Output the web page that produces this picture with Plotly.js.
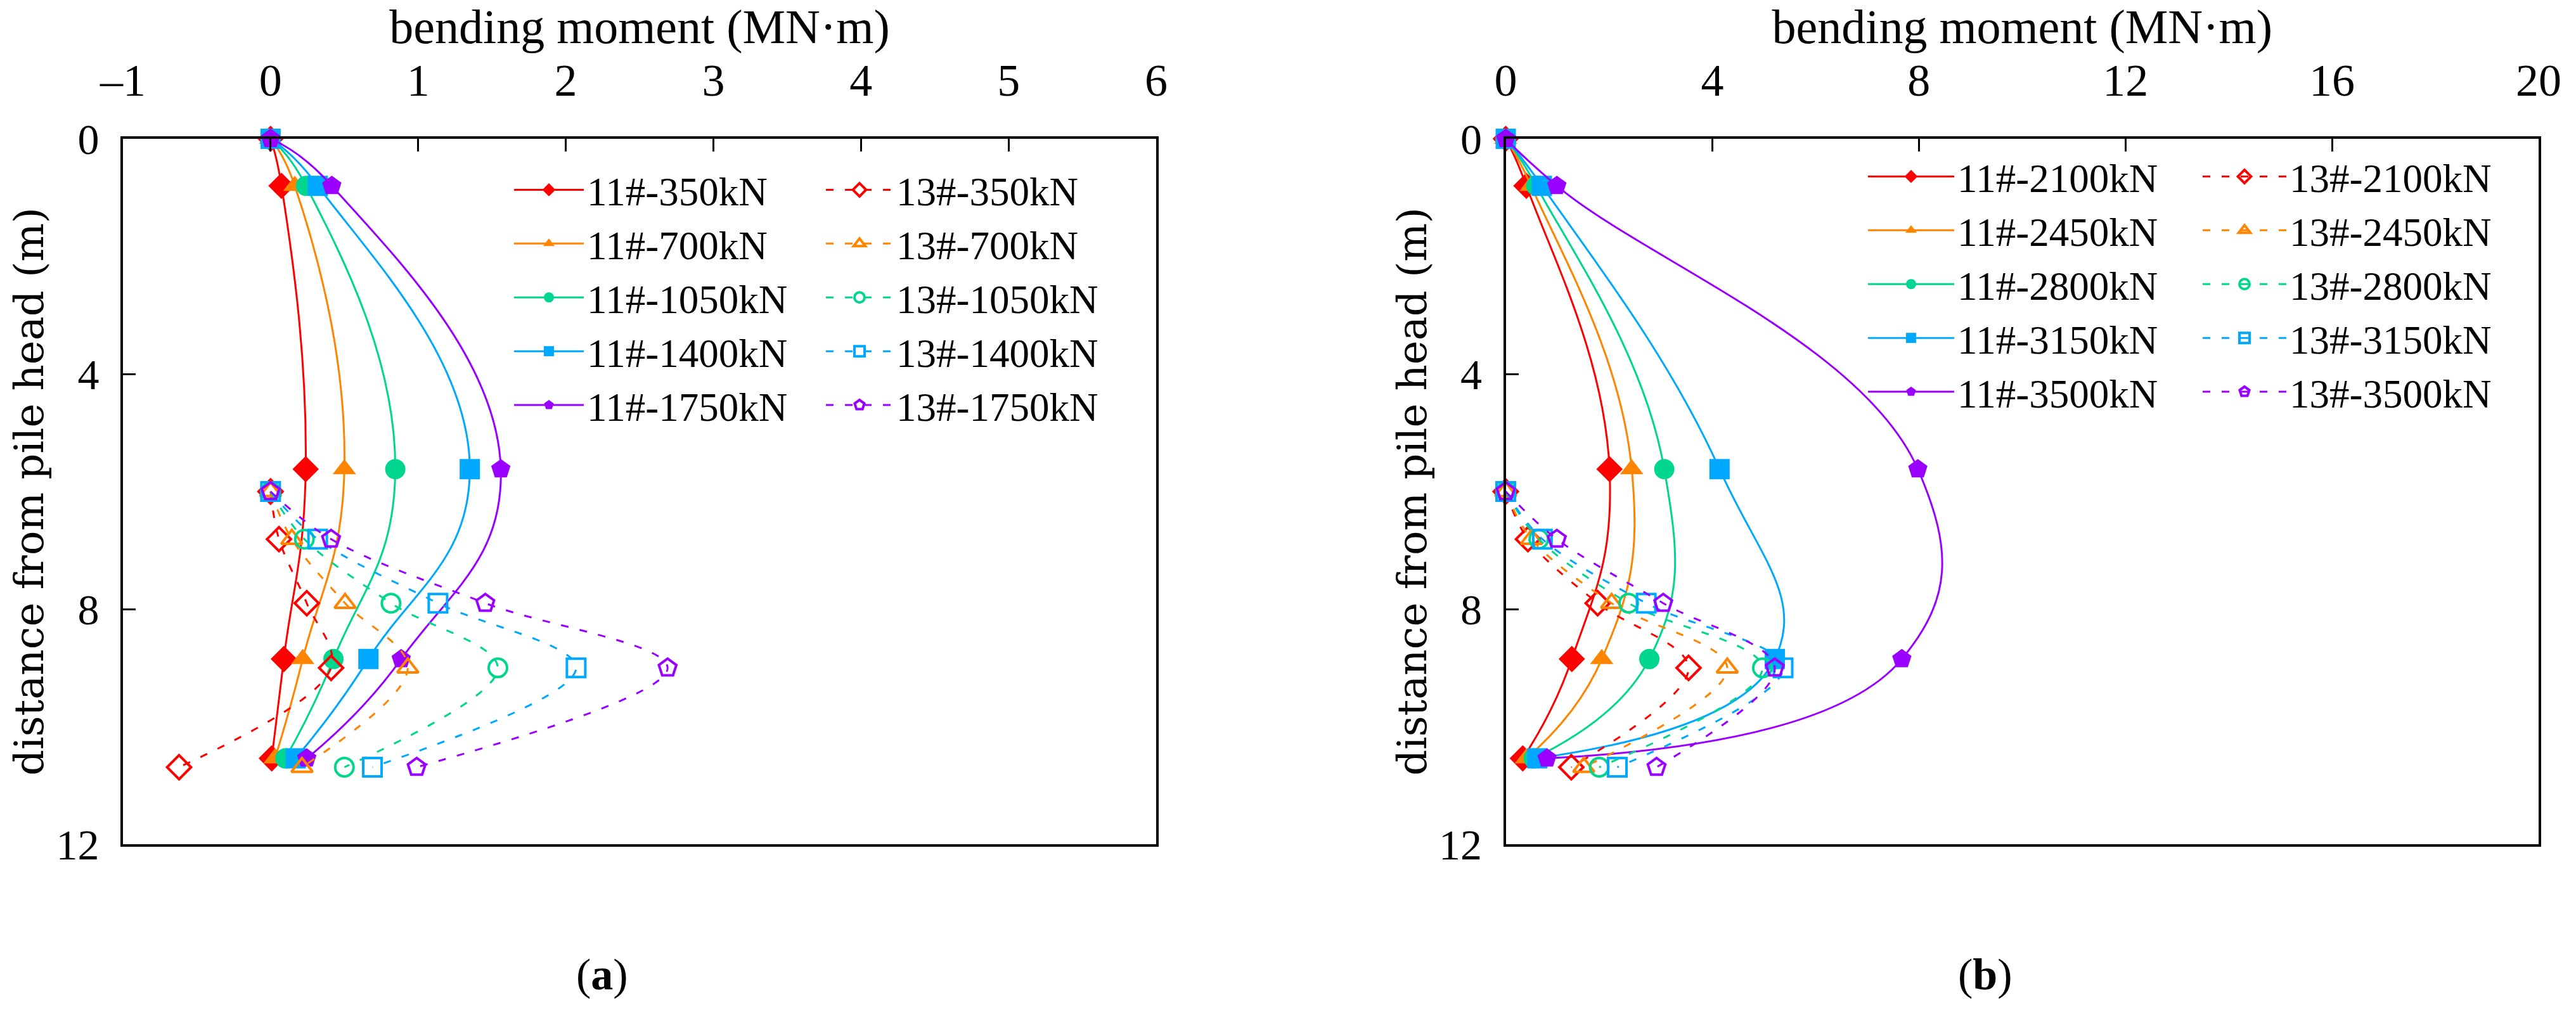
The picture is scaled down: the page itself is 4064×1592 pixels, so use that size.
<!DOCTYPE html>
<html>
<head>
<meta charset="utf-8">
<script src="https://cdn.plot.ly/plotly-3.0.1.min.js"></script>
<style>html,body{margin:0;padding:0;background:#fff;}#chart{width:4064px;height:1592px;}</style>
</head>
<body>
<div id="chart"></div>
<script>
// ---- data ----
const depth11 = [0, 0.8, 5.62, 8.85, 10.54];
const depth13 = [6.0, 6.81, 7.9, 9.0, 10.69];

const loadsA = ['350kN', '700kN', '1050kN', '1400kN', '1750kN'];
const a11_350  = [0, 0.074, 0.238, 0.09, 0.008];
const a11_700  = [0, 0.164, 0.50, 0.218, 0.03];
const a11_1050 = [0, 0.24, 0.845, 0.426, 0.10];
const a11_1400 = [0, 0.32, 1.35, 0.663, 0.17];
const a11_1750 = [0, 0.415, 1.56, 0.885, 0.245];
const a13_350  = [0, 0.057, 0.245, 0.41, -0.62];
const a13_700  = [0, 0.144, 0.505, 0.93, 0.213];
const a13_1050 = [0, 0.229, 0.816, 1.54, 0.50];
const a13_1400 = [0, 0.319, 1.134, 2.07, 0.69];
const a13_1750 = [0, 0.41, 1.455, 2.69, 0.99];

const loadsB = ['2100kN', '2450kN', '2800kN', '3150kN', '3500kN'];
const b11_2100 = [0, 0.40, 2.01, 1.28, 0.33];
const b11_2450 = [0, 0.49, 2.44, 1.86, 0.40];
const b11_2800 = [0, 0.59, 3.07, 2.78, 0.54];
const b11_3150 = [0, 0.70, 4.14, 5.21, 0.61];
const b11_3500 = [0, 0.99, 7.98, 7.67, 0.80];
const b13_2100 = [0, 0.43, 1.78, 3.54, 1.27];
const b13_2450 = [0, 0.50, 2.05, 4.29, 1.51];
const b13_2800 = [0, 0.64, 2.38, 4.97, 1.81];
const b13_3150 = [0, 0.71, 2.72, 5.37, 2.16];
const b13_3500 = [0, 0.99, 3.05, 5.21, 2.92];

const xTicksA = [-1, 0, 1, 2, 3, 4, 5, 6];
const xTicksB = [0, 4, 8, 12, 16, 20];
const yTicks = [0, 4, 8, 12];

// ---- styles ----
const colors = ['#ff0000', '#ff8400', '#00d68f', '#00a8ff', '#9a00ff'];
const symFilled = ['diamond', 'triangle-up', 'circle', 'square', 'pentagon'];
const symOpen = ['diamond-open', 'triangle-up-open', 'circle-open', 'square-open', 'pentagon-open'];
const serif = '"Liberation Serif", "Times New Roman", Times, serif';
const wideSerif = '"DejaVu Serif", serif';

const A11 = [a11_350, a11_700, a11_1050, a11_1400, a11_1750];
const A13 = [a13_350, a13_700, a13_1050, a13_1400, a13_1750];
const B11 = [b11_2100, b11_2450, b11_2800, b11_3150, b11_3500];
const B13 = [b13_2100, b13_2450, b13_2800, b13_3150, b13_3500];

const traces = [];
function addSet(vals11, vals13, loads, xa, ya, lg11, lg13) {
  for (let i = 0; i < 5; i++) {
    traces.push({
      type: 'scatter', mode: 'lines+markers',
      x: vals11[i], y: depth11, xaxis: xa, yaxis: ya,
      name: '11#-' + loads[i], legend: lg11,
      line: {color: colors[i], width: 3, shape: 'spline', smoothing: 1.3},
      marker: {symbol: symFilled[i], size: 32, color: colors[i]},
      cliponaxis: false
    });
  }
  for (let i = 0; i < 5; i++) {
    traces.push({
      type: 'scatter', mode: 'lines+markers',
      x: vals13[i], y: depth13, xaxis: xa, yaxis: ya,
      name: '13#-' + loads[i], legend: lg13,
      line: {color: colors[i], width: 3, dash: '12px,18px', shape: 'spline', smoothing: 1.0},
      marker: {symbol: symOpen[i], size: 29, color: colors[i], line: {width: 4, color: colors[i]}},
      cliponaxis: false
    });
  }
}
addSet(A11, A13, loadsA, 'x', 'y', 'legend', 'legend2');
addSet(B11, B13, loadsB, 'x2', 'y2', 'legend3', 'legend4');

const W = 4064, H = 1592;
const px = v => v / W, py = v => 1 - v / H;

function xAxis(domain, range, ticks, anchor) {
  return {
    domain: domain, range: range, side: 'top', anchor: anchor,
    tickmode: 'array', tickvals: ticks, ticktext: ticks.map(v => v < 0 ? '\u2013' + Math.abs(v) : String(v)),
    ticks: 'inside', ticklen: 20, tickwidth: 3, tickcolor: '#000',
    showline: true, linewidth: 4, linecolor: '#000', mirror: true,
    showgrid: false, zeroline: false,
    tickfont: {family: serif, size: 72, color: '#000'},
    ticklabelstandoff: 35,
    title: {text: 'bending moment (MN\u00b7m)', font: {family: serif, size: 76, color: '#000'}, standoff: 22}
  };
}
function yAxis(range, anchor) {
  return {
    domain: [1 - 1332 / H, 1 - 219 / H], range: range, anchor: anchor,
    tickmode: 'array', tickvals: yTicks,
    ticks: 'inside', ticklen: 20, tickwidth: 3, tickcolor: '#000',
    showline: true, linewidth: 4, linecolor: '#000', mirror: true,
    showgrid: false, zeroline: false,
    tickfont: {family: serif, size: 68, color: '#000'},
    ticklabelstandoff: 20,
    title: {text: 'distance from pile head (m)', font: {family: wideSerif, size: 64, color: '#000'}, standoff: 0}
  };
}

function legendAt(xpix, ypix, iw) {
  return {
    x: px(xpix), y: py(ypix), xanchor: 'left', yanchor: 'top', xref: 'paper', yref: 'paper',
    bgcolor: 'rgba(0,0,0,0)', borderwidth: 0, itemwidth: iw,
    font: {family: serif, size: 63, color: '#000'},
    tracegroupgap: 0, itemclick: false
  };
}

const layout = {
  width: W, height: H,
  margin: {l: 0, r: 0, t: 0, b: 0, pad: 0},
  paper_bgcolor: '#fff', plot_bgcolor: 'rgba(0,0,0,0)',
  showlegend: true,
  font: {family: serif, color: '#000'},
  xaxis: xAxis([px(194), px(1824)], [-1, 6], xTicksA, 'y'),
  yaxis: yAxis([12, 0], 'x'),
  xaxis2: xAxis([px(2375.5), px(4005)], [0, 20], xTicksB, 'y2'),
  yaxis2: yAxis([12, 0], 'x2'),
  legend: legendAt(806, 252, 110),
  legend2: legendAt(1298, 252, 106),
  legend3: legendAt(2942, 231, 136),
  legend4: legendAt(3470, 231, 132),
  annotations: [
    {text: '(<b>a</b>)', x: px(950), y: py(1537), xref: 'paper', yref: 'paper', showarrow: false,
     xanchor: 'center', yanchor: 'middle', font: {family: serif, size: 70, color: '#000'}},
    {text: '(<b>b</b>)', x: px(3132), y: py(1537), xref: 'paper', yref: 'paper', showarrow: false,
     xanchor: 'center', yanchor: 'middle', font: {family: serif, size: 70, color: '#000'}}
  ]
};

Plotly.newPlot('chart', traces, layout, {staticPlot: true, displayModeBar: false});
</script>
</body>
</html>
